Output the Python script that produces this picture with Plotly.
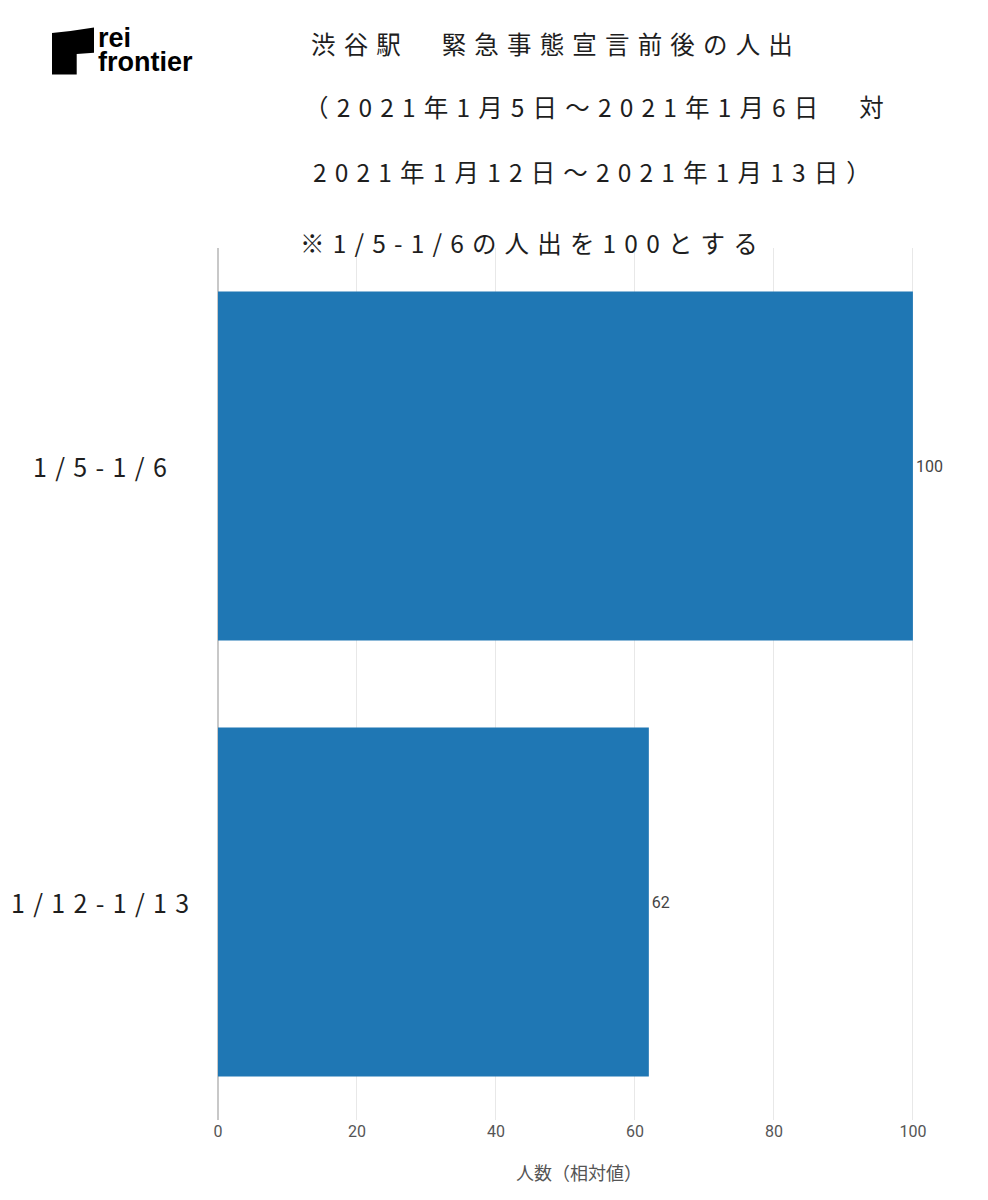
import plotly.graph_objects as go

# ---- data ----
categories = ["1/5-1/6", "1/12-1/13"]
values = [100, 62]
x_ticks = [0, 20, 40, 60, 80, 100]
title_lines = [
    "渋谷駅　緊急事態宣言前後の人出",
    "（2021年1月5日～2021年1月6日　対",
    "2021年1月12日～2021年1月13日）",
    "※1/5-1/6の人出を100とする",
]
x_title = "人数（相対値）"
logo_words = ["rei", "frontier"]

# ---- layout geometry (page pixels; page body has an 8px margin) ----
OFF = 8
W, H = 988 - OFF, 1200 - OFF
L, R, T, B = 218, 940, 248, 1120   # plot area in page pixels


def px(x):
    return (x - L) / (R - L)


def py(y):
    return (B - y) / (B - T)


def spaced(s, sp="\u2004"):
    return sp.join(list(s))


CJK = "Noto Sans CJK JP"
TXT = "#1e1e1e"

fig = go.Figure(
    go.Bar(
        x=values,
        y=categories,
        orientation="h",
        marker=dict(color="#1f77b4", line=dict(width=0)),
        text=[str(v) for v in values],
        textposition="outside",
        textfont=dict(family="Roboto, Arial, sans-serif", size=16, color="#444444"),
        cliponaxis=False,
        hoverinfo="skip",
    )
)

annotations = []
title_pos = [(309, 43), (302, 106), (311, 172), (298, 243)]
for line, (x0, y0) in zip(title_lines, title_pos):
    annotations.append(
        dict(
            text=spaced(line), xref="paper", yref="paper", x=px(x0), y=py(y0),
            xanchor="left", yanchor="middle", showarrow=False,
            font=dict(family=CJK, size=24.5, color=TXT),
        )
    )

for cat in categories:
    annotations.append(
        dict(
            text=spaced(cat), xref="paper", yref="y", x=px(100), y=cat,
            xanchor="center", yanchor="middle", showarrow=False,
            font=dict(family=CJK, size=25, color=TXT),
        )
    )

# logo words
logo_font = dict(family="Liberation Sans, Arial, sans-serif", size=27, color="#000")
annotations.append(dict(text="<b>%s</b>" % logo_words[0], xref="paper", yref="paper",
                        x=px(96), y=py(38), xanchor="left", yanchor="middle", showarrow=False,
                        font=logo_font))
annotations.append(dict(text="<b>%s</b>" % logo_words[1], xref="paper", yref="paper",
                        x=px(96), y=py(62), xanchor="left", yanchor="middle", showarrow=False,
                        font=logo_font))

logo_path = "M {a},{b} Q {c},{d} {e},{f} L {e},{g} L {h},{i} L {h},{j} L {a},{j} Z".format(
    a=px(52), b=py(33), c=px(73), d=py(31), e=px(94), f=py(27.5),
    g=py(52.7), h=px(76.7), i=py(54), j=py(74.5))

fig.update_layout(
    width=W, height=H,
    margin=dict(l=L - OFF, r=W - (R - OFF), t=T - OFF, b=H - (B - OFF), pad=0),
    paper_bgcolor="white", plot_bgcolor="white",
    showlegend=False,
    bargap=0.2,
    xaxis=dict(
        range=[0, 103.9], tickvals=x_ticks, ticktext=[str(t) for t in x_ticks],
        showgrid=True, gridcolor="#e8e8e8", gridwidth=1,
        zeroline=True, zerolinecolor="#c8c8c8", zerolinewidth=2,
        showline=False, ticks="",
        tickfont=dict(family="Roboto, Arial, sans-serif", size=16, color="#555555"),
        title=dict(text=x_title, standoff=27,
                   font=dict(family=CJK, size=18, color="#555555")),
        automargin=False, fixedrange=True,
    ),
    yaxis=dict(
        type="category", autorange="reversed", showticklabels=False,
        showgrid=False, zeroline=False, showline=False, ticks="",
        automargin=False, fixedrange=True,
    ),
    annotations=annotations,
    shapes=[dict(type="path", path=logo_path, xref="paper", yref="paper",
                 fillcolor="#000000", line=dict(width=0), layer="above")],
)

fig.write_html("out.html")
